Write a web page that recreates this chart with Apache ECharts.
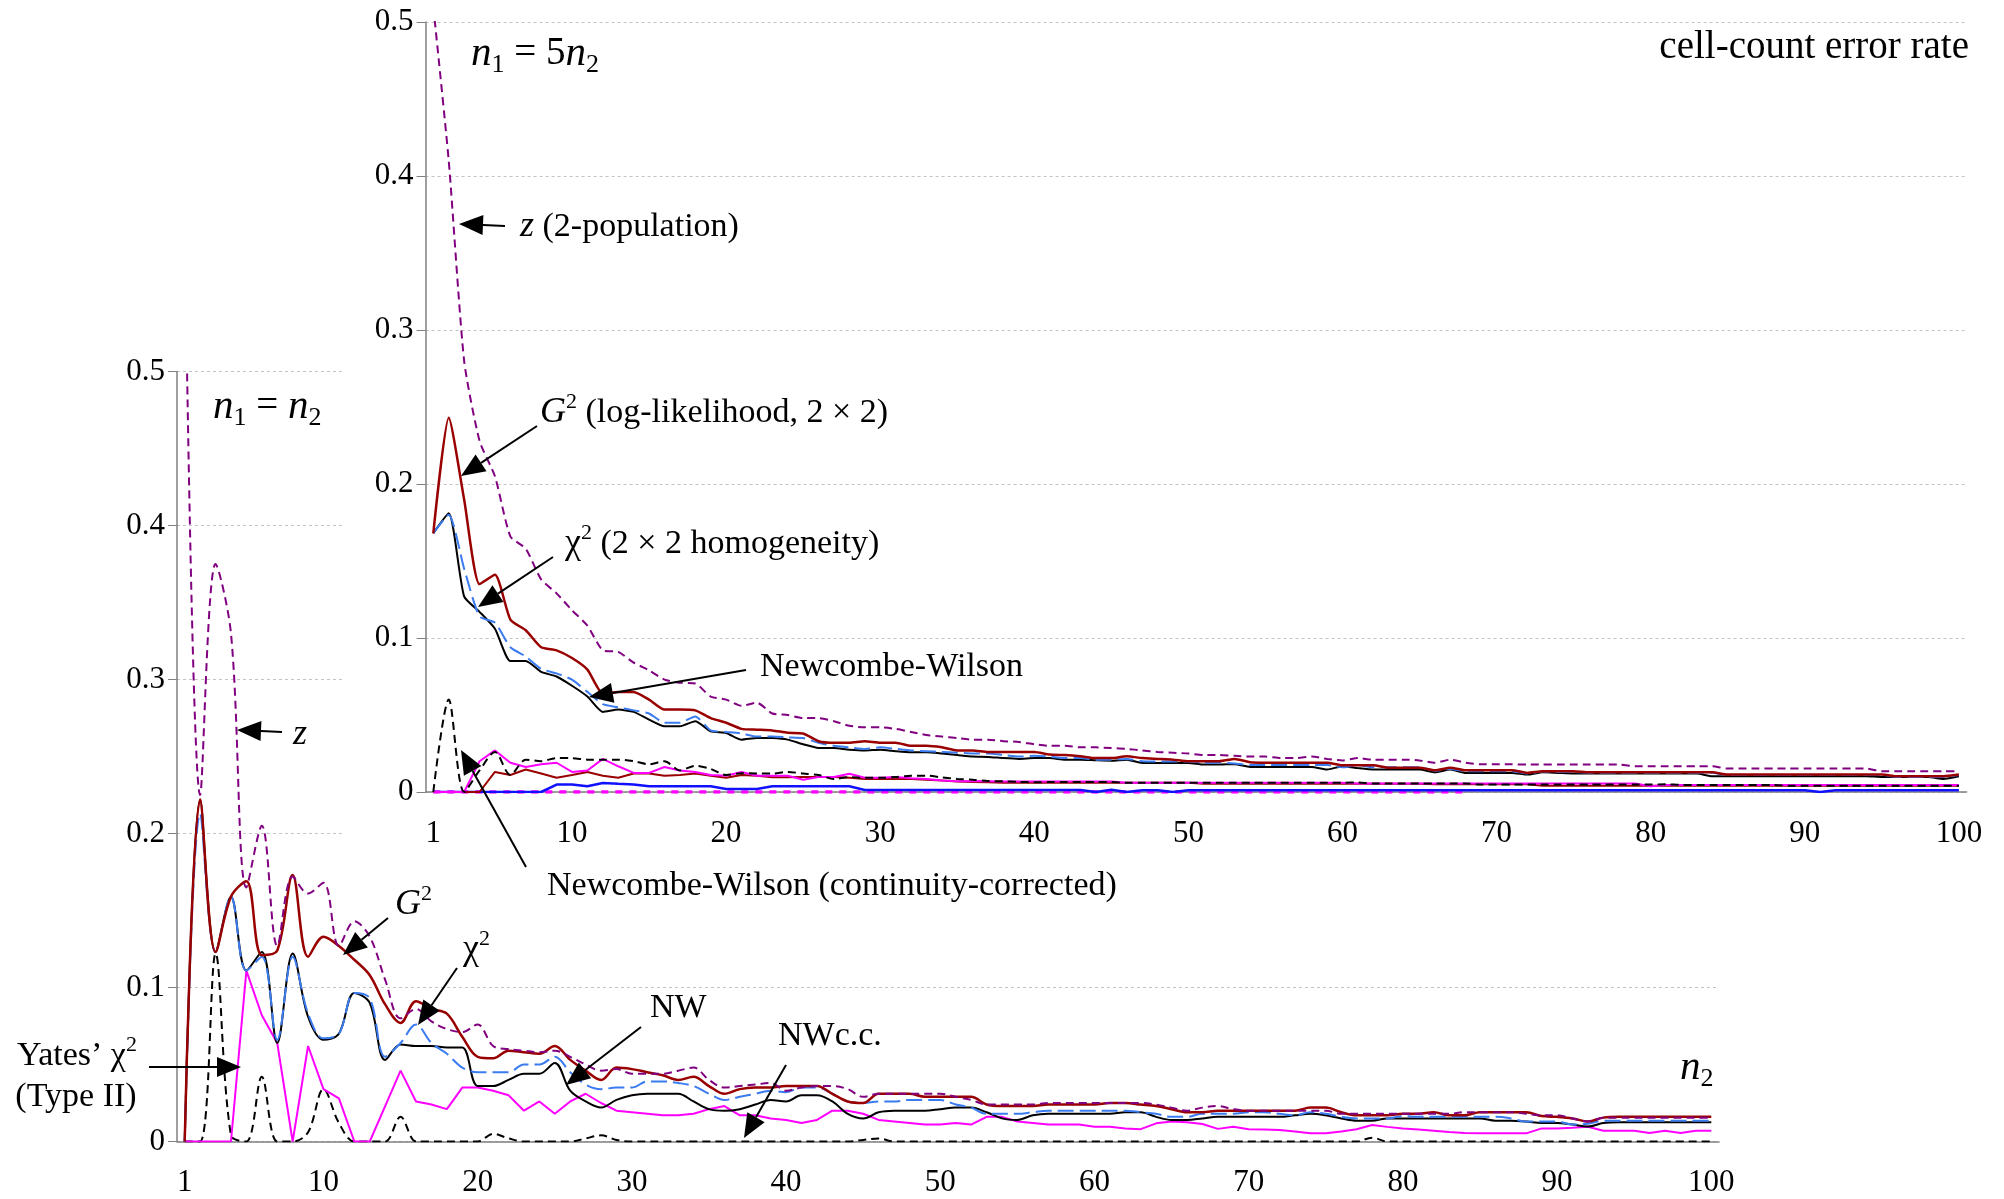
<!DOCTYPE html>
<html>
<head>
<meta charset="utf-8">
<script src="https://cdn.jsdelivr.net/npm/echarts/dist/echarts.min.js"></script>
<style>
  html, body { margin: 0; padding: 0; background: #fff; }
  #chart { width: 2004px; height: 1199px; }
</style>
</head>
<body>
<div id="chart"></div>
<script>
// x categories (n2) and the labelled ticks
const n2 = Array.from({ length: 100 }, (_, i) => String(i + 1));
const xTickLabels = ['1', '10', '20', '30', '40', '50', '60', '70', '80', '90', '100'];

// ---- lower chart : n1 = n2 ----
const lowerZ = [
  0.60, 0.225, 0.375, 0.33, 0.165, 0.205, 0.127, 0.172, 0.161, 0.168,
  0.127, 0.143, 0.133, 0.105, 0.080, 0.086, 0.078, 0.073, 0.071, 0.076,
  0.062, 0.060, 0.059, 0.058, 0.059, 0.055, 0.050, 0.046, 0.047, 0.044,
  0.044, 0.044, 0.046, 0.048, 0.040, 0.035, 0.036, 0.037, 0.038, 0.033,
  0.035, 0.036, 0.036, 0.034, 0.029, 0.031, 0.031, 0.031, 0.031, 0.031,
  0.029, 0.027, 0.024, 0.024, 0.024, 0.024, 0.025, 0.025, 0.025, 0.025,
  0.025, 0.025, 0.025, 0.024, 0.022, 0.020, 0.022, 0.023, 0.021, 0.020,
  0.020, 0.020, 0.020, 0.020, 0.020, 0.018, 0.018, 0.018, 0.018, 0.018,
  0.018, 0.018, 0.018, 0.019, 0.019, 0.019, 0.019, 0.018, 0.017, 0.017,
  0.015, 0.013, 0.0155, 0.0155, 0.0155, 0.0155, 0.0155, 0.0155, 0.0155, 0.0155
];
const lowerG2 = [
  0, 0.222, 0.123, 0.159, 0.169, 0.121, 0.124, 0.173, 0.120, 0.133,
  0.127, 0.118, 0.108, 0.089, 0.077, 0.091, 0.086, 0.083, 0.068, 0.055,
  0.054, 0.059, 0.058, 0.057, 0.062, 0.053, 0.046, 0.040, 0.048, 0.047,
  0.045, 0.043, 0.040, 0.042, 0.036, 0.031, 0.034, 0.035, 0.035, 0.036,
  0.036, 0.036, 0.031, 0.026, 0.025, 0.031, 0.031, 0.031, 0.029, 0.029,
  0.029, 0.029, 0.024, 0.023, 0.023, 0.023, 0.024, 0.024, 0.024, 0.024,
  0.025, 0.025, 0.024, 0.023, 0.021, 0.019, 0.019, 0.020, 0.020, 0.020,
  0.020, 0.020, 0.020, 0.022, 0.022, 0.019, 0.017, 0.017, 0.017, 0.018,
  0.018, 0.019, 0.017, 0.017, 0.019, 0.019, 0.019, 0.019, 0.0165, 0.016,
  0.015, 0.013, 0.0155, 0.016, 0.016, 0.016, 0.016, 0.016, 0.016, 0.016
];
const lowerChi2 = [
  0, 0.213, 0.123, 0.159, 0.111, 0.120, 0.066, 0.120, 0.083, 0.067,
  0.070, 0.0965, 0.093, 0.055, 0.064, 0.076, 0.064, 0.057, 0.048, 0.045,
  0.045, 0.045, 0.050, 0.050, 0.055, 0.045, 0.037, 0.034, 0.035, 0.035,
  0.039, 0.039, 0.038, 0.036, 0.031, 0.027, 0.029, 0.031, 0.033, 0.032,
  0.035, 0.035, 0.031, 0.026, 0.025, 0.026, 0.026, 0.027, 0.027, 0.027,
  0.024, 0.022, 0.018, 0.018, 0.018, 0.019, 0.020, 0.020, 0.020, 0.020,
  0.020, 0.020, 0.019, 0.018, 0.016, 0.016, 0.018, 0.018, 0.018, 0.019,
  0.019, 0.018, 0.017, 0.019, 0.018, 0.016, 0.015, 0.015, 0.015, 0.0165,
  0.016, 0.016, 0.016, 0.016, 0.016, 0.016, 0.015, 0.013, 0.013, 0.013,
  0.011, 0.0115, 0.0135, 0.0135, 0.0135, 0.0135, 0.0135, 0.0135, 0.0135, 0.0135
];
const lowerNW = [
  0, 0.222, 0.123, 0.159, 0.111, 0.123, 0.064, 0.122, 0.081, 0.066,
  0.070, 0.0965, 0.090, 0.053, 0.063, 0.062, 0.062, 0.061, 0.061, 0.036,
  0.036, 0.040, 0.044, 0.044, 0.051, 0.033, 0.026, 0.022, 0.027, 0.030,
  0.031, 0.031, 0.031, 0.026, 0.021, 0.020, 0.021, 0.024, 0.027, 0.026,
  0.030, 0.030, 0.026, 0.018, 0.015, 0.019, 0.020, 0.020, 0.020, 0.021,
  0.022, 0.022, 0.019, 0.015, 0.014, 0.017, 0.018, 0.018, 0.018, 0.018,
  0.018, 0.019, 0.019, 0.016, 0.014, 0.014, 0.015, 0.016, 0.016, 0.016,
  0.016, 0.016, 0.017, 0.018, 0.017, 0.015, 0.0135, 0.0135, 0.015, 0.015,
  0.015, 0.015, 0.015, 0.015, 0.015, 0.0135, 0.0135, 0.013, 0.012, 0.012,
  0.011, 0.0097, 0.012, 0.0125, 0.0125, 0.0125, 0.0125, 0.0125, 0.0125, 0.0125
];
const lowerNWcc = [
  0, 0, 0.122, 0.004, 0, 0.042, 0, 0, 0.006, 0.034,
  0.012, 0, 0, 0, 0.016, 0, 0, 0, 0, 0,
  0.005, 0.002, 0, 0, 0, 0, 0.002, 0.004, 0.001, 0,
  0, 0, 0, 0, 0, 0, 0, 0, 0, 0,
  0, 0, 0, 0, 0.001, 0.002, 0, 0, 0, 0,
  0, 0, 0, 0, 0, 0, 0, 0, 0, 0,
  0, 0, 0, 0, 0, 0, 0, 0, 0, 0,
  0, 0, 0, 0, 0, 0, 0, 0.0025, 0, 0,
  0, 0, 0, 0, 0, 0, 0, 0, 0, 0,
  0, 0, 0, 0, 0, 0, 0, 0, 0, 0
];
const lowerYates = [
  0, 0, 0, 0, 0.111, 0.082, 0.064, 0, 0.062, 0.034,
  0.028, 0, 0, 0.023, 0.046, 0.026, 0.024, 0.021, 0.035, 0.035,
  0.033, 0.030, 0.020, 0.026, 0.018, 0.026, 0.031, 0.025, 0.020, 0.019,
  0.018, 0.017, 0.017, 0.018, 0.021, 0.023, 0.017, 0.017, 0.015, 0.014,
  0.012, 0.014, 0.020, 0.020, 0.018, 0.014, 0.013, 0.012, 0.011, 0.011,
  0.012, 0.011, 0.016, 0.016, 0.013, 0.012, 0.011, 0.011, 0.011, 0.0096,
  0.0096, 0.0085, 0.008, 0.0118, 0.013, 0.0125, 0.0114, 0.0082, 0.0096, 0.008,
  0.0078, 0.0075, 0.0065, 0.0053, 0.0053, 0.0065, 0.008, 0.0107, 0.0095, 0.0085,
  0.0078, 0.007, 0.0062, 0.0055, 0.0053, 0.0053, 0.0053, 0.0053, 0.0085, 0.0085,
  0.009, 0.0096, 0.007, 0.007, 0.007, 0.0055, 0.007, 0.0055, 0.007, 0.007
];

// ---- inset chart : n1 = 5 n2 ----
const insetZ = [
  0.51, 0.41, 0.28, 0.228, 0.205, 0.166, 0.158, 0.138, 0.129, 0.118,
  0.108, 0.092, 0.091, 0.084, 0.079, 0.073, 0.071, 0.0705, 0.062, 0.060,
  0.056, 0.058, 0.051, 0.050, 0.048, 0.048, 0.046, 0.043, 0.042, 0.042,
  0.041, 0.039, 0.037, 0.036, 0.035, 0.034, 0.034, 0.033, 0.0325, 0.031,
  0.030, 0.030, 0.029, 0.029, 0.0285, 0.028, 0.027, 0.026, 0.0255, 0.025,
  0.024, 0.024, 0.0235, 0.023, 0.023, 0.022, 0.022, 0.023, 0.0215, 0.0205,
  0.022, 0.021, 0.021, 0.021, 0.0205, 0.019, 0.021, 0.019, 0.018, 0.018,
  0.018, 0.0178, 0.0178, 0.0178, 0.0178, 0.0178, 0.0178, 0.0178, 0.0167, 0.0167,
  0.0167, 0.0167, 0.0167, 0.0167, 0.0152, 0.0152, 0.0152, 0.0152, 0.0152, 0.0152,
  0.0152, 0.0152, 0.0152, 0.0152, 0.0135, 0.0135, 0.0135, 0.0135, 0.0135, 0.0135
];
const insetG2 = [
  0.168, 0.243, 0.19, 0.135, 0.141, 0.112, 0.105, 0.094, 0.092, 0.087,
  0.0795, 0.064, 0.065, 0.065, 0.060, 0.0535, 0.0535, 0.053, 0.048, 0.045,
  0.041, 0.0405, 0.040, 0.0385, 0.038, 0.033, 0.032, 0.032, 0.033, 0.032,
  0.032, 0.030, 0.030, 0.029, 0.027, 0.027, 0.026, 0.026, 0.026, 0.026,
  0.0243, 0.024, 0.0232, 0.022, 0.022, 0.0232, 0.022, 0.0215, 0.021, 0.020,
  0.020, 0.020, 0.0215, 0.0193, 0.019, 0.019, 0.019, 0.019, 0.019, 0.0174,
  0.0174, 0.0174, 0.0157, 0.0157, 0.0157, 0.0141, 0.0157, 0.0141, 0.0141, 0.0141,
  0.0141, 0.0124, 0.0135, 0.0135, 0.0135, 0.0128, 0.0128, 0.0128, 0.0128, 0.0128,
  0.0128, 0.0128, 0.0128, 0.0128, 0.0113, 0.0113, 0.0113, 0.0113, 0.0113, 0.0113,
  0.0113, 0.0113, 0.0113, 0.0113, 0.0113, 0.0102, 0.0102, 0.0102, 0.0102, 0.0113
];
const insetChi2 = [
  0.168, 0.180, 0.145, 0.114, 0.110, 0.094, 0.088, 0.080, 0.077, 0.073,
  0.065, 0.057, 0.055, 0.053, 0.051, 0.045, 0.045, 0.049, 0.040, 0.039,
  0.038, 0.036, 0.036, 0.0355, 0.035, 0.032, 0.030, 0.029, 0.028, 0.029,
  0.028, 0.027, 0.0265, 0.026, 0.0255, 0.025, 0.025, 0.024, 0.023, 0.0235,
  0.023, 0.022, 0.022, 0.021, 0.021, 0.0215, 0.020, 0.0198, 0.0198, 0.0198,
  0.019, 0.019, 0.0185, 0.0175, 0.0175, 0.0175, 0.0175, 0.0175, 0.0175, 0.016,
  0.0175, 0.016, 0.016, 0.016, 0.016, 0.0138, 0.015, 0.0135, 0.0135, 0.0135,
  0.0135, 0.012, 0.0133, 0.013, 0.013, 0.0125, 0.0125, 0.0125, 0.0125, 0.0125,
  0.0125, 0.0125, 0.0125, 0.0125, 0.011, 0.011, 0.011, 0.011, 0.011, 0.011,
  0.011, 0.011, 0.011, 0.011, 0.011, 0.0098, 0.0098, 0.0098, 0.0098, 0.011
];
const insetNW = [
  0.168, 0.181, 0.127, 0.117, 0.106, 0.085, 0.085, 0.078, 0.075, 0.069,
  0.062, 0.052, 0.0535, 0.052, 0.047, 0.0427, 0.0427, 0.046, 0.0394, 0.0383,
  0.034, 0.0351, 0.035, 0.034, 0.031, 0.0286, 0.0285, 0.0275, 0.027, 0.0275,
  0.0265, 0.0258, 0.0258, 0.025, 0.024, 0.023, 0.0228, 0.022, 0.0215, 0.022,
  0.022, 0.021, 0.021, 0.0206, 0.0203, 0.021, 0.0189, 0.0189, 0.0189, 0.0189,
  0.0178, 0.0178, 0.0181, 0.0163, 0.0163, 0.0163, 0.0163, 0.0163, 0.0146, 0.0167,
  0.0155, 0.0146, 0.0146, 0.0146, 0.0146, 0.0128, 0.0146, 0.0124, 0.0124, 0.0124,
  0.0124, 0.0113, 0.0128, 0.0124, 0.012, 0.012, 0.012, 0.012, 0.012, 0.012,
  0.012, 0.012, 0.012, 0.0102, 0.0102, 0.0102, 0.0102, 0.0102, 0.0102, 0.0102,
  0.0102, 0.0102, 0.0102, 0.0102, 0.0098, 0.0098, 0.0098, 0.0098, 0.0085, 0.0102
];
const insetNWcc = [
  0, 0.060, 0, 0.014, 0.026, 0.011, 0.021, 0.020, 0.022, 0.022,
  0.021, 0.021, 0.021, 0.020, 0.018, 0.020, 0.014, 0.017, 0.015, 0.011,
  0.0122, 0.012, 0.012, 0.013, 0.012, 0.011, 0.0085, 0.0097, 0.0092, 0.0092,
  0.0097, 0.0105, 0.0106, 0.0095, 0.0085, 0.008, 0.0072, 0.0069, 0.0066, 0.0063,
  0.0065, 0.0065, 0.0065, 0.0065, 0.0065, 0.006, 0.006, 0.006, 0.006, 0.006,
  0.006, 0.006, 0.006, 0.006, 0.006, 0.006, 0.006, 0.006, 0.006, 0.006,
  0.0062, 0.0055, 0.0055, 0.0055, 0.0055, 0.0055, 0.0055, 0.0055, 0.0048, 0.0048,
  0.0048, 0.0048, 0.0048, 0.0048, 0.0048, 0.0048, 0.0048, 0.0048, 0.0048, 0.0048,
  0.005, 0.0046, 0.0046, 0.0046, 0.0046, 0.0046, 0.0046, 0.0046, 0.004, 0.004,
  0.004, 0.004, 0.004, 0.004, 0.004, 0.004, 0.004, 0.004, 0.004, 0.004
];
const insetYates = [
  0, 0, 0, 0.020, 0.027, 0.019, 0.0162, 0.018, 0.019, 0.013,
  0.014, 0.0215, 0.0167, 0.0124, 0.0124, 0.0162, 0.014, 0.013, 0.011, 0.0105,
  0.013, 0.0105, 0.0105, 0.0105, 0.008, 0.0097, 0.0097, 0.0119, 0.0092, 0.0092,
  0.0097, 0.009, 0.0085, 0.0075, 0.0069, 0.0072, 0.007, 0.0068, 0.0068, 0.0068,
  0.0068, 0.0068, 0.0068, 0.0068, 0.0068, 0.006, 0.006, 0.006, 0.006, 0.006,
  0.006, 0.006, 0.006, 0.006, 0.006, 0.006, 0.006, 0.006, 0.006, 0.006,
  0.0055, 0.0055, 0.0055, 0.0055, 0.0055, 0.0055, 0.0055, 0.0055, 0.0055, 0.0055,
  0.0055, 0.0055, 0.0055, 0.0055, 0.0055, 0.0055, 0.0055, 0.0055, 0.0055, 0.0037,
  0.0045, 0.0045, 0.0045, 0.0045, 0.0045, 0.0045, 0.0045, 0.0045, 0.0045, 0.0045,
  0.0045, 0.0045, 0.0045, 0.0045, 0.0045, 0.0045, 0.0045, 0.0045, 0.0045, 0.0045
];
const insetG2Low = [
  0, 0, 0, 0, 0.013, 0.011, 0.0146, 0.012, 0.0092, 0.011,
  0.013, 0.0105, 0.0092, 0.012, 0.012, 0.0105, 0.011, 0.012, 0.0105, 0.0092,
  0.011, 0.0105, 0.0095, 0.0095, 0.0097, 0.0097, 0.0097, 0.0092, 0.0085, 0.0085,
  0.0085, 0.0085, 0.008, 0.0075, 0.0068, 0.0065, 0.0063, 0.006, 0.006, 0.006,
  0.006, 0.006, 0.006, 0.006, 0.006, 0.006, 0.006, 0.006, 0.006, 0.006,
  0.0053, 0.0053, 0.0053, 0.0053, 0.0053, 0.0053, 0.0053, 0.0053, 0.0053, 0.0053,
  0.0053, 0.0053, 0.0053, 0.0053, 0.0053, 0.005, 0.005, 0.005, 0.005, 0.005,
  0.005, 0.005, 0.0041, 0.0041, 0.0041, 0.0041, 0.0041, 0.0041, 0.0041, 0.0041,
  0.0041, 0.0041, 0.0041, 0.0041, 0.0041, 0.0041, 0.0041, 0.0041, 0.0041, 0.0041,
  0.0041, 0.0041, 0.0041, 0.0041, 0.0041, 0.0041, 0.0041, 0.0041, 0.0041, 0.0041
];
const insetBlue = [
  0, 0, 0, 0, 0, 0, 0, 0, 0.0048, 0.0048,
  0.0037, 0.0059, 0.0053, 0.0048, 0.0037, 0.0037, 0.0037, 0.0037, 0.0037, 0.002,
  0.002, 0.002, 0.0037, 0.0037, 0.0037, 0.0037, 0.0037, 0.0037, 0.0013, 0.0013,
  0.0013, 0.0013, 0.0013, 0.0013, 0.0013, 0.0013, 0.0013, 0.0013, 0.0013, 0.0013,
  0.0013, 0.0013, 0.0013, 0, 0.0015, 0, 0.0011, 0.0011, 0, 0.0011,
  0.0011, 0.0011, 0.0011, 0.0011, 0.0011, 0.0011, 0.0011, 0.0011, 0.0011, 0.0011,
  0.0011, 0.0011, 0.0011, 0.0011, 0.0011, 0.0011, 0.0011, 0.0011, 0.0011, 0.0011,
  0.0011, 0.0011, 0.0011, 0.0011, 0.0011, 0.0011, 0.0011, 0.0011, 0.0011, 0.0011,
  0.0011, 0.0011, 0.0011, 0.0011, 0.0011, 0.0011, 0.0011, 0.0011, 0.0011, 0.0011,
  0, 0.0011, 0.0011, 0.0011, 0.0011, 0.0011, 0.0011, 0.0011, 0.0011, 0.0011
];
const insetMagDash = [
  0, 0, 0, 0, 0, 0, 0, 0, 0, 0,
  0, 0, 0, 0, 0, 0, 0, 0, 0, 0,
  0, 0, 0, 0, 0, 0, 0, 0, 0, 0,
  0, 0, 0, 0, 0, 0, 0, 0, 0, 0,
  0, 0, 0, 0, 0, 0, 0, 0, 0, 0,
  0, 0, 0, 0, 0, 0, 0, 0, 0, 0,
  0, 0, 0, 0, 0, 0, 0, 0, null, null,
  null, null, null, null, null, null, null, null, null, null,
  null, null, null, null, null, null, null, null, null, null,
  null, null, null, null, null, null, null, null, null, null
];

const FONT = "'Liberation Serif', 'Times New Roman', serif";
const PURPLE = '#800080', DARKRED = '#990000', BLUE = '#3b7bf0', MAGENTA = '#ff00ff';

function xAx(gi, z) {
  return {
    type: 'category', gridIndex: gi, data: n2, boundaryGap: true, z,
    axisLine: { lineStyle: { color: '#808080', width: 1.5 } },
    axisTick: { interval: 0, length: 8, lineStyle: { color: '#808080' } },
    axisLabel: {
      interval: (i, v) => xTickLabels.includes(String(v)),
      fontFamily: FONT, fontSize: 31, color: '#000', margin: 26
    },
    splitLine: { show: false }
  };
}
function yAx(gi, z) {
  return {
    type: 'value', gridIndex: gi, min: 0, max: 0.5, interval: 0.1, z,
    axisLine: { show: true, lineStyle: { color: '#808080', width: 1.5 } },
    axisTick: { show: true, length: 9, lineStyle: { color: '#808080' } },
    axisLabel: {
      formatter: v => (v === 0 ? '0' : v.toFixed(1)),
      fontFamily: FONT, fontSize: 31, color: '#000', margin: 12
    },
    splitLine: { show: true, lineStyle: { color: '#c4c4c4', type: [3, 3], width: 1 } }
  };
}
function line(data, gi, color, width, dash, smooth, z) {
  return {
    type: 'line', xAxisIndex: gi, yAxisIndex: gi, data, symbol: 'none',
    smooth, z, silent: true, connectNulls: false,
    lineStyle: { color, width, type: dash || 'solid' }
  };
}

// arrow = line + filled triangular head, tip at (x2, y2)
function arrow(x1, y1, x2, y2) {
  const a = Math.atan2(y2 - y1, x2 - x1), L = 24, W = 10;
  const bx = x2 - L * Math.cos(a), by = y2 - L * Math.sin(a);
  return [
    { type: 'line', z: 20, silent: true, shape: { x1, y1, x2: bx, y2: by }, style: { stroke: '#000', lineWidth: 2 } },
    { type: 'polygon', z: 20, silent: true,
      shape: { points: [[x2, y2], [bx - W * Math.sin(a), by + W * Math.cos(a)], [bx + W * Math.sin(a), by - W * Math.cos(a)]] },
      style: { fill: '#000' } }
  ];
}
const rich = {
  i: { fontFamily: FONT, fontSize: 36, fontStyle: 'italic', lineHeight: 44 },
  t: { fontFamily: FONT, fontSize: 34, lineHeight: 44 },
  big: { fontFamily: FONT, fontSize: 39, lineHeight: 44 },
  c: { fontFamily: FONT, fontSize: 36, lineHeight: 44 },
  mi: { fontFamily: FONT, fontSize: 41, fontStyle: 'italic', lineHeight: 48 },
  mt: { fontFamily: FONT, fontSize: 39, lineHeight: 48 },
  msub: { fontFamily: FONT, fontSize: 26, lineHeight: 24, verticalAlign: 'bottom' },
  sub: { fontFamily: FONT, fontSize: 22, lineHeight: 22, verticalAlign: 'bottom' },
  sup: { fontFamily: FONT, fontSize: 22, lineHeight: 26, verticalAlign: 'top' }
};
function label(x, y, text, align) {
  align = align || 'left';
  return {
    type: 'text', x, y, z: 20, silent: true,
    style: {
      text, rich, fill: '#000', fontFamily: FONT, fontSize: 34,
      align, textAlign: align, verticalAlign: 'middle', textVerticalAlign: 'middle'
    }
  };
}

const graphics = [
  // white panel of the inset, hides the lower chart's grid lines behind it
  { type: 'rect', z: 1, silent: true, shape: { x: 342, y: 0, width: 1662, height: 850 }, style: { fill: '#fff' } },
  label(1969, 48, '{big|cell-count error rate}', 'right'),
  label(471, 54, '{mi|n}{msub|1}{mt| = 5}{mi|n}{msub|2}'),
  label(520, 227, '{i|z}{t| (2-population)}'),
  label(540, 413, '{i|G}{sup|2}{t| (log-likelihood, 2 × 2)}'),
  label(565, 544, '{c|χ}{sup|2}{t| (2 × 2 homogeneity)}'),
  label(760, 667, '{t|Newcombe-Wilson}'),
  label(547, 886, '{t|Newcombe-Wilson (continuity-corrected)}'),
  label(213, 407, '{mi|n}{msub|1}{mt| = }{mi|n}{msub|2}'),
  label(293, 735, '{i|z}'),
  label(395, 905, '{i|G}{sup|2}'),
  label(463, 950, '{c|χ}{sup|2}'),
  label(650, 1008, '{t|NW}'),
  label(778, 1036, '{t|NWc.c.}'),
  label(77, 1056, '{t|Yates’ χ}{sup|2}', 'center'),
  label(76, 1097, '{t|(Type II)}', 'center'),
  label(1680, 1068, '{mi|n}{msub|2}'),
  ...arrow(505, 226, 459, 224),
  ...arrow(537, 426, 461, 476),
  ...arrow(553, 557, 478, 607),
  ...arrow(746, 670, 589, 697),
  ...arrow(526, 867, 461, 750),
  ...arrow(282, 732, 237, 730),
  ...arrow(388, 918, 343, 955),
  ...arrow(457, 968, 418, 1025),
  ...arrow(641, 1027, 566, 1085),
  ...arrow(786, 1065, 744, 1138),
  ...arrow(149, 1067, 241, 1067)
];

const chart = echarts.init(document.getElementById('chart'));
chart.setOption({
  animation: false,
  backgroundColor: '#fff',
  grid: [
    { left: 177, right: 285, top: 371.5, bottom: 57.5 },
    { left: 425.6, right: 37.4, top: 22, bottom: 407 }
  ],
  xAxis: [xAx(0, 0), xAx(1, 5)],
  yAxis: [yAx(0, 0), yAx(1, 5)],
  graphic: graphics,
  series: [
    // lower chart
    line(lowerNWcc, 0, '#000', 2, [8, 5], 0.35, 2),
    line(lowerYates, 0, MAGENTA, 2, 'solid', false, 2),
    line(lowerNW, 0, '#000', 2, 'solid', 0.35, 2),
    line(lowerChi2, 0, BLUE, 2, [16, 6], 0.35, 2),
    line(lowerG2, 0, DARKRED, 2.5, 'solid', 0.35, 2),
    line(lowerZ, 0, PURPLE, 2, [8, 5], 0.35, 2),
    // inset chart
    line(insetMagDash, 1, MAGENTA, 3.5, [7, 7], false, 6),
    line(insetBlue, 1, '#1010ff', 2.5, 'solid', false, 6),
    line(insetG2Low, 1, DARKRED, 2, 'solid', false, 6),
    line(insetYates, 1, MAGENTA, 2, 'solid', false, 6),
    line(insetNWcc, 1, '#000', 2, [8, 5], 0.3, 6),
    line(insetNW, 1, '#000', 2, 'solid', 0.2, 6),
    line(insetChi2, 1, BLUE, 2, [16, 6], 0.2, 6),
    line(insetG2, 1, DARKRED, 2.5, 'solid', 0.2, 6),
    line(insetZ, 1, PURPLE, 2, [8, 5], 0.2, 6)
  ]
});
</script>
</body>
</html>
